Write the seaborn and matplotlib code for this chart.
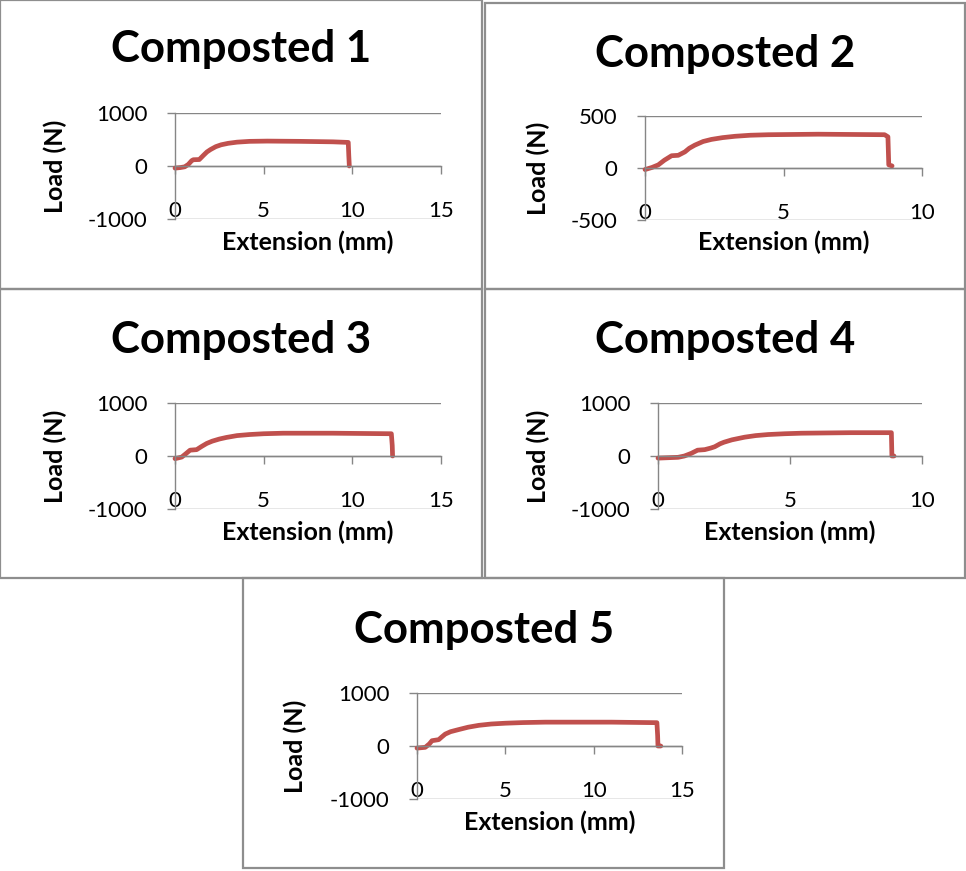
import matplotlib
matplotlib.use("Agg")
import matplotlib.pyplot as plt
import matplotlib.patches as mpatches
import seaborn as sns
import pandas as pd

# ---------------- data ----------------
titles = ["Composted 1", "Composted 2", "Composted 3", "Composted 4", "Composted 5"]

comp1_ext = [0, 0.3, 0.55, 0.75, 0.94, 1.03, 1.37, 1.6, 1.8, 2.0, 2.3, 2.6, 3.0, 3.5, 4.2, 5.2,
             7.05, 8.9, 9.77, 9.8, 9.83]
comp1_load = [-40, -30, -15, 30, 100, 118, 122, 200, 265, 310, 365, 400, 428, 450, 465, 470,
              465, 456, 445, 200, 0]

comp2_ext = [0, 0.25, 0.48, 0.7, 0.96, 1.2, 1.44, 1.6, 1.8, 2.1, 2.4, 2.8, 3.25, 3.8, 4.45,
             6.25, 8.65, 8.77, 8.8, 8.92]
comp2_load = [-15, 5, 30, 75, 118, 122, 155, 190, 220, 255, 275, 292, 305, 315, 320,
              325, 320, 300, 30, 20]

comp3_ext = [0, 0.2, 0.38, 0.6, 0.85, 1.22, 1.5, 1.79, 2.1, 2.5, 2.9, 3.5, 4.2, 5.0, 6.1,
             8.9, 12.2, 12.25, 12.27]
comp3_load = [-50, -35, -20, 40, 110, 120, 180, 237, 280, 320, 350, 385, 405, 420, 430,
              430, 420, 200, 0]

comp4_ext = [0, 0.76, 1.0, 1.26, 1.5, 1.77, 2.0, 2.15, 2.35, 2.5, 2.8, 3.28, 3.7, 4.17,
             4.8, 5.43, 7.3, 8.84, 8.86, 8.94]
comp4_load = [-40, -25, 0, 50, 110, 120, 150, 175, 230, 260, 305, 355, 385, 405,
              420, 430, 440, 440, 0, 0]

comp5_ext = [0, 0.47, 0.7, 0.85, 1.23, 1.4, 1.6, 1.9, 2.36, 2.9, 3.5, 4.2, 5.0, 6.0, 7.26,
             11.0, 13.58, 13.62, 13.64, 13.8]
comp5_load = [-40, -25, 40, 100, 120, 170, 225, 270, 310, 355, 390, 415, 430, 442, 450,
              450, 440, 200, 0, 0]

xlims = [15, 10, 15, 10, 15]
xticks = [[0, 5, 10, 15], [0, 5, 10], [0, 5, 10, 15], [0, 5, 10], [0, 5, 10, 15]]
ylims = [1000, 500, 1000, 1000, 1000]
yticks = [[-1000, 0, 1000], [-500, 0, 500], [-1000, 0, 1000], [-1000, 0, 1000], [-1000, 0, 1000]]
x_label = "Extension (mm)"
y_label = "Load (N)"

series = [(comp1_ext, comp1_load), (comp2_ext, comp2_load), (comp3_ext, comp3_load),
          (comp4_ext, comp4_load), (comp5_ext, comp5_load)]

# ---------------- layout (pixels) ----------------
W, H = 966, 871
axes_px = [(175, 113, 441, 219), (645, 116, 922, 220), (175, 403, 441, 509),
           (658, 403, 922, 509), (417, 693, 682, 799)]
frames_px = [(0, 0, 482, 289), (485, 3, 965, 289), (0, 289, 482, 578),
             (485, 289, 965, 578), (243, 578, 724, 868)]
title_px = [(241, 49), (725, 54), (241, 340), (725, 340), (484, 630)]
ylab_x_px = [55, 538, 55, 538, 295]
xlab_y_px = [242, 242, 532, 532, 822]

sns.set_theme(style="white")
plt.rcParams["font.family"] = ["Lato", "DejaVu Sans"]

LINE = "#C0504D"
GRID = "#868686"
FRAME = "#8E8E8E"

fig = plt.figure(figsize=(W / 100, H / 100), dpi=100)
fig.patch.set_facecolor("white")

def fx(x):
    return x / W

def fy(y):
    return 1 - y / H

for i in range(5):
    x0, y0, x1, y1 = axes_px[i]
    ax = fig.add_axes([fx(x0), fy(y1), (x1 - x0) / W, (y1 - y0) / H])
    ax.set_facecolor("none")
    df = pd.DataFrame({"ext": series[i][0], "load": series[i][1]})
    sns.lineplot(data=df, x="ext", y="load", ax=ax, color=LINE, lw=3.4,
                 sort=False, estimator=None, solid_capstyle="round",
                 solid_joinstyle="round")
    for l in ax.lines:
        l.set_clip_on(False)
    ax.set_xlim(0, xlims[i])
    ax.set_ylim(-ylims[i], ylims[i])
    ax.set_xticks(xticks[i])
    ax.set_yticks(yticks[i])
    ax.set_xticklabels([str(t) for t in xticks[i]])
    ax.set_yticklabels([str(t) for t in yticks[i]])
    ax.yaxis.grid(True, color=GRID, lw=1.0)
    ax.xaxis.grid(False)
    for s in ["top", "right"]:
        ax.spines[s].set_visible(False)
    ax.spines["left"].set_color(GRID)
    ax.spines["left"].set_linewidth(1.0)
    ax.spines["bottom"].set_position(("data", 0))
    ax.spines["bottom"].set_color(GRID)
    ax.spines["bottom"].set_linewidth(1.0)
    ax.tick_params(axis="x", direction="out", length=6, width=1.0, color=GRID,
                   pad=19, labelsize=16, labelcolor="black", bottom=True)
    ax.tick_params(axis="y", direction="out", length=6, width=1.0, color=GRID,
                   pad=14, labelsize=16, labelcolor="black", left=True)
    ax.set_xlabel(x_label, fontsize=18, fontweight="bold", color="black")
    ax.set_ylabel(y_label, fontsize=18, fontweight="bold", color="black")
    ax.xaxis.label.set_va("center")
    ax.yaxis.label.set_va("center")
    ax.xaxis.set_label_coords(fx((x0 + x1) / 2), fy(xlab_y_px[i]), transform=fig.transFigure)
    ax.yaxis.set_label_coords(fx(ylab_x_px[i]), fy((y0 + y1) / 2), transform=fig.transFigure)

    tx, ty = title_px[i]
    fig.text(fx(tx), fy(ty), titles[i], ha="center", va="center",
             fontsize=31.5, fontweight="bold", color="black")

    a, b, c, d = frames_px[i]
    fig.patches.append(mpatches.Rectangle((fx(a), fy(d)), (c - a) / W, (d - b) / H,
                                          transform=fig.transFigure, fill=False,
                                          edgecolor=FRAME, lw=1.6, zorder=0))

fig.savefig("out.png", dpi=100, facecolor="white")
